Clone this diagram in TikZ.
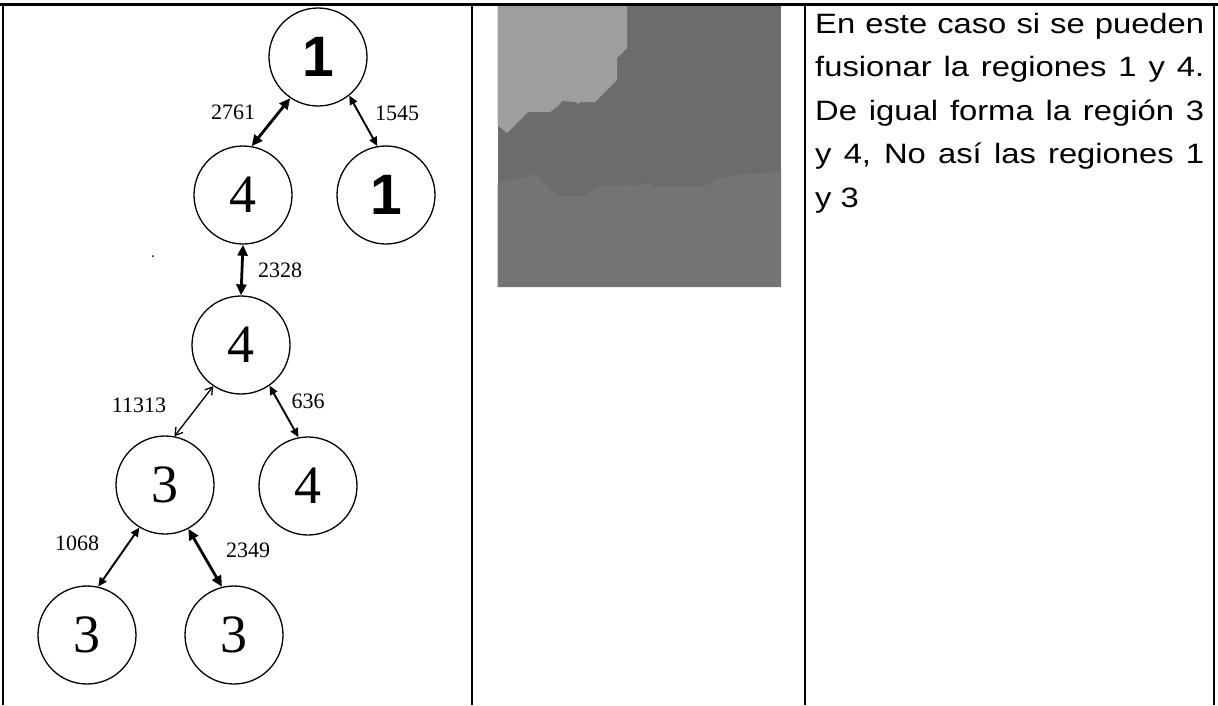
\documentclass[tikz,border=0pt]{standalone}
\usepackage{fontspec}
\setmainfont{Liberation Serif}
\newfontfamily\arialish{Liberation Sans}
\newfontfamily\arialwide[FakeStretch=1.17]{Liberation Sans}
\usetikzlibrary{arrows.meta}

\definecolor{regionlight}{RGB}{158,158,158}
\definecolor{regiondark}{RGB}{108,108,108}
\definecolor{regionmid}{RGB}{116,116,116}

\begin{document}
\begin{tikzpicture}[x=1pt,y=-1pt,
  state/.style={circle, draw, line width=1.3pt, minimum size=98pt, inner sep=0pt,
    font=\fontsize{54}{54}\selectfont},
  sansstate/.style={state, font=\arialish\bfseries\fontsize{57}{57}\selectfont},
  weight/.style={font=\fontsize{22}{22}\selectfont, inner sep=0pt},
  heavy/.style={line width=2.8pt, {Triangle[length=11pt,width=10pt]}-{Triangle[length=11pt,width=10pt]}},
  medium/.style={line width=1.9pt, {Triangle[length=9pt,width=8pt]}-{Triangle[length=9pt,width=8pt]}},
  light/.style={line width=1.3pt, {Straight Barb[length=7pt,width=9pt]}-{Straight Barb[length=7pt,width=9pt]}},
  grid/.style={line width=2pt},
  textline/.style={anchor=base west, inner sep=0pt, font=\arialwide\fontsize{28}{28}\selectfont}
]
\useasboundingbox (0,0) rectangle (1218,705);
\fill[white] (0,0) rectangle (1218,705);

% table rules
\draw[line width=3pt] (0,4.5) -- (1218,4.5);
\draw[grid] (3,4) -- (3,705);
\draw[grid] (471.5,4) -- (471.5,705);
\draw[grid] (805,4) -- (805,705);
\draw[grid] (1214,4) -- (1214,705);

% segmented region picture
\fill[regiondark] (497.5,6) rectangle (781,287);
\fill[regionmid] (497.5,185) -- (503,181) -- (525,178) -- (533,173) -- (558,196) -- (585,196)
  -- (600,186) -- (643,185) -- (648,182) -- (652,187) -- (703,187) -- (718,178) -- (727,178)
  -- (732,175) -- (770,173) -- (776,170) -- (781,171) -- (781,287) -- (497.5,287) -- cycle;
\fill[regionlight] (497.5,6) -- (627,6) -- (627,48) -- (617,58) -- (617,80) -- (595,102)
  -- (580,102) -- (578,104) -- (576,102) -- (562,101) -- (558,106) -- (550,112) -- (528,112)
  -- (507,133) -- (497.5,125) -- cycle;

% region adjacency tree
\node[sansstate] (n1)  at (318,57)  {1};
\node[state]     (n4a) at (243,195) {4};
\node[sansstate] (n1r) at (386,195) {1};
\node[state]     (n4b) at (241,345) {4};
\node[state]     (n3a) at (165,485) {3};
\node[state]     (n4c) at (308,486) {4};
\node[state]     (n3b) at (87,635)  {3};
\node[state]     (n3c) at (234,635) {3};

\draw[heavy]  (n4a.80)  -- (n1.236);
\draw[medium] (n1.309)  -- (n1r.100);
\draw[heavy]  (n4a.270) -- (n4b.90);
\draw[light]  (n4b.236) -- (n3a.79);
\draw[medium] (n4b.305) -- (n4c.101);
\draw[medium] (n3a.239) -- (n3b.77);
\draw[heavy]  (n3a.298) -- (n3c.104);

\node[weight] (w1) at (233,112) {2761};
\node[weight] (w2) at (397,113) {1545};
\node[weight] (w3) at (280,270) {2328};
\node[weight] (w4) at (139,405) {11313};
\node[weight] (w5) at (308,401) {636};
\node[weight] (w6) at (77,543)  {1068};
\node[weight] (w7) at (248,550) {2349};

\fill (153,256) circle (1pt);

% explanation
\node[textline] (t1) at (815,33)    {\makebox[389pt][s]{En este caso si se pueden}};
\node[textline] (t2) at (815,76.5)  {\makebox[389pt][s]{fusionar la regiones 1 y 4.}};
\node[textline] (t3) at (815,120)   {\makebox[389pt][s]{De igual forma la región 3}};
\node[textline] (t4) at (815,163.5) {\makebox[389pt][s]{y 4, No así las regiones 1}};
\node[textline] (t5) at (815,207)   {y 3};
\end{tikzpicture}
\end{document}
